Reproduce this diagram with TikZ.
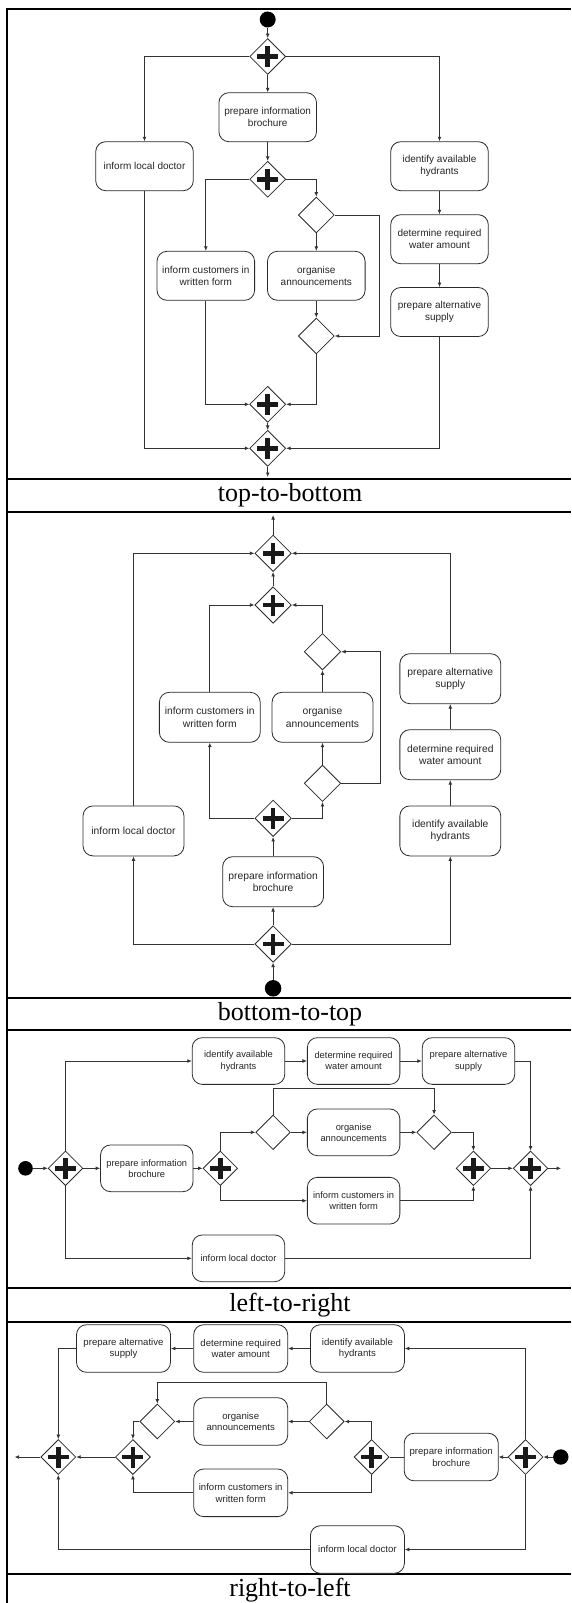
\documentclass[tikz,border=0pt]{standalone}
\usepackage{fontspec}
\setmainfont{Liberation Serif}
\newfontfamily\boxfont{Liberation Sans}
\usetikzlibrary{shapes.geometric, arrows.meta}
\definecolor{linecol}{HTML}{333333}
\definecolor{boxcol}{HTML}{2A2A2A}
\begin{document}
\begin{tikzpicture}[x=1pt, y=-1pt,
  box/.style={draw=boxcol, line width=0.8pt, rounded corners=10pt, align=center, inner sep=1pt, text=black!85, fill=white},
  gw/.style={diamond, draw=boxcol, line width=0.8pt, inner sep=0pt, fill=white, minimum width=36pt, minimum height=36pt},
  plusgw/.style={path picture={
     \fill[black!90] ([shift={(-10.5pt,-2.3pt)}]path picture bounding box.center) rectangle ([shift={(10.5pt,2.3pt)}]path picture bounding box.center);
     \fill[black!90] ([shift={(-2.3pt,-10.5pt)}]path picture bounding box.center) rectangle ([shift={(2.3pt,10.5pt)}]path picture bounding box.center);}},
  startdot/.style={circle, fill=black, inner sep=0pt, minimum size=16pt},
  arr/.style={draw=linecol, line width=0.75pt, -{Latex[length=4.5pt,width=3.8pt]}},
  con/.style={draw=linecol, line width=0.75pt},
  frameline/.style={line width=2pt, black},
  captext/.style={font=\fontsize{26}{30}\selectfont, inner sep=0pt}
]
\useasboundingbox (0,0) rectangle (571,1603);

% ---------------- frame ----------------
\draw[frameline] (6.3,9) -- (571,9);
\draw[frameline] (7.3,8) -- (7.3,1603);
\foreach \yy in {479.3, 511.7, 998.3, 1030, 1288.3, 1321.7, 1574.3}
  \draw[frameline] (6.3,\yy) -- (571,\yy);

\node[captext] (c1) at (290,495.5) {top-to-bottom};
\node[captext] (c2) at (290,1014) {bottom-to-top};
\node[captext] (c3) at (290,1305.5) {left-to-right};
\node[captext] (c4) at (290,1590.5) {right-to-left};

% ---------------- panel 1: top-to-bottom ----------------
\begin{scope}[box/.append style={minimum width=97.6pt, minimum height=49pt, font=\boxfont\fontsize{10}{11.8}\selectfont}]
\node[startdot] (s1) at (267.7,19.5) {};
\node[gw,plusgw] (f1) at (267.7,56.5) {};
\node[box] (bro1) at (267.7,117.2) {prepare information\\brochure};
\node[box] (doc1) at (144.5,166.2) {inform local doctor};
\node[box] (hyd1) at (439.5,166.2) {identify available\\hydrants};
\node[gw,plusgw] (f2) at (267.7,179.3) {};
\node[gw] (d1) at (316.3,215) {};
\node[box] (wat1) at (439.5,239.2) {determine required\\water amount};
\node[box] (cus1) at (205.8,275.8) {inform customers in\\written form};
\node[box] (ann1) at (316.3,275.8) {organise\\announcements};
\node[box] (sup1) at (439.5,312) {prepare alternative\\supply};
\node[gw] (m1) at (316.3,336) {};
\node[gw,plusgw] (j1) at (267.7,404.3) {};
\node[gw,plusgw] (j2) at (267.7,448.3) {};
\coordinate (e1) at (267.7,477);

\draw[arr] (s1) -- (f1);
\draw[arr] (f1) -- (bro1);
\draw[arr] (f1.west) -| (doc1);
\draw[arr] (f1.east) -| (hyd1);
\draw[arr] (hyd1) -- (wat1);
\draw[arr] (wat1) -- (sup1);
\draw[arr] (bro1) -- (f2);
\draw[arr] (f2.west) -| (cus1);
\draw[arr] (f2.east) -| (d1);
\draw[arr] (d1) -- (ann1);
\draw[arr] (d1.east) -- ++(44.4,0) |- (m1.east);
\draw[arr] (ann1) -- (m1);
\draw[arr] (cus1.south) |- (j1.west);
\draw[arr] (m1.south) |- (j1.east);
\draw[arr] (j1) -- (j2);
\draw[arr] (doc1.south) |- (j2.west);
\draw[arr] (sup1.south) |- (j2.east);
\draw[arr] (j2) -- (e1);
\end{scope}

% ---------------- panel 2: bottom-to-top ----------------
\begin{scope}[box/.append style={minimum width=100.9pt, minimum height=50pt, font=\boxfont\fontsize{10.3}{12.2}\selectfont},
  gw/.append style={minimum width=36.5pt, minimum height=36.5pt}]
\node[startdot, minimum size=16.5pt] (s2) at (273.1,988.3) {};
\node[gw,plusgw] (f1b) at (273.1,944) {};
\node[box] (bro2) at (273.1,881.7) {prepare information\\brochure};
\node[box] (doc2) at (133.5,830.9) {inform local doctor};
\node[box] (hyd2) at (450.3,830.9) {identify available\\hydrants};
\node[gw,plusgw] (f2b) at (273.1,818.3) {};
\node[gw] (d2) at (322.5,783.3) {};
\node[box] (wat2) at (450.3,754.7) {determine required\\water amount};
\node[box] (cus2) at (209.8,717.3) {inform customers in\\written form};
\node[box] (ann2) at (322.5,717.3) {organise\\announcements};
\node[box] (sup2) at (450.3,678.7) {prepare alternative\\supply};
\node[gw] (m2) at (322.5,651.7) {};
\node[gw,plusgw] (j2b) at (273.1,605) {};
\node[gw,plusgw] (jt) at (273.1,553.3) {};
\coordinate (e2) at (273.1,515);

\draw[arr] (s2) -- (f1b);
\draw[arr] (f1b) -- (bro2);
\draw[arr] (f1b.west) -| (doc2);
\draw[arr] (f1b.east) -| (hyd2);
\draw[arr] (hyd2) -- (wat2);
\draw[arr] (wat2) -- (sup2);
\draw[arr] (bro2) -- (f2b);
\draw[arr] (f2b.west) -| (cus2);
\draw[arr] (f2b.east) -| (d2);
\draw[arr] (d2) -- (ann2);
\draw[arr] (d2.east) -- ++(39.3,0) |- (m2.east);
\draw[arr] (ann2) -- (m2);
\draw[arr] (cus2.north) |- (j2b.west);
\draw[arr] (m2.north) |- (j2b.east);
\draw[arr] (j2b) -- (jt);
\draw[arr] (doc2.north) |- (jt.west);
\draw[arr] (sup2.north) |- (jt.east);
\draw[arr] (jt) -- (e2);
\end{scope}

% ---------------- panel 3: left-to-right ----------------
\begin{scope}[box/.append style={minimum width=92.5pt, minimum height=46.7pt, font=\boxfont\fontsize{9.3}{11.2}\selectfont},
  gw/.append style={minimum width=34.6pt, minimum height=34.6pt}]
\node[startdot, minimum size=14.6pt] (s3) at (25.5,1168.3) {};
\node[gw,plusgw] (f1c) at (65.5,1168.3) {};
\node[box] (hyd3) at (238.5,1061) {identify available\\hydrants};
\node[box] (wat3) at (353.6,1061) {determine required\\water amount};
\node[box] (sup3) at (468.5,1061) {prepare alternative\\supply};
\node[box] (bro3) at (146.8,1168.3) {prepare information\\brochure};
\node[gw,plusgw] (f2c) at (220.3,1168.3) {};
\node[gw] (d3a) at (273.1,1132.3) {};
\node[box] (ann3) at (353.6,1132.3) {organise\\announcements};
\node[gw] (d3b) at (434.1,1132.3) {};
\node[gw,plusgw] (j1c) at (473.4,1168.3) {};
\node[gw,plusgw] (j2c) at (530.6,1168.3) {};
\node[box] (cus3) at (353.6,1200.7) {inform customers in\\written form};
\node[box] (doc3) at (238.5,1258.3) {inform local doctor};
\coordinate (e3) at (561,1168.3);

\draw[arr] (s3) -- (f1c);
\draw[arr] (f1c) -- (bro3);
\draw[arr] (f1c.north) |- (hyd3);
\draw[arr] (hyd3) -- (wat3);
\draw[arr] (wat3) -- (sup3);
\draw[arr] (sup3.east) -| (j2c);
\draw[arr] (bro3) -- (f2c);
\draw[arr] (f2c.north) |- (d3a);
\draw[arr] (d3a) -- (ann3);
\draw[arr] (ann3) -- (d3b);
\draw[arr] (d3a.north) -- ++(0,-26.7) -| (d3b.north);
\draw[arr] (d3b.east) -| (j1c);
\draw[arr] (f2c.south) |- (cus3);
\draw[arr] (cus3.east) -| (j1c);
\draw[arr] (j1c) -- (j2c);
\draw[arr] (f1c.south) |- (doc3);
\draw[arr] (doc3.east) -| (j2c);
\draw[arr] (j2c) -- (e3);
\end{scope}

% ---------------- panel 4: right-to-left ----------------
\begin{scope}[box/.append style={minimum width=94pt, minimum height=47.6pt, font=\boxfont\fontsize{9.6}{11.5}\selectfont},
  gw/.append style={minimum width=35pt, minimum height=35pt}]
\node[startdot, minimum size=15.4pt] (s4) at (560.8,1457) {};
\node[gw,plusgw] (f1d) at (525.5,1457) {};
\node[box] (bro4) at (451.2,1457) {prepare information\\brochure};
\node[gw,plusgw] (f2d) at (371.6,1457) {};
\node[box] (hyd4) at (357.4,1348.5) {identify available\\hydrants};
\node[box] (wat4) at (240.7,1348.5) {determine required\\water amount};
\node[box] (sup4) at (123.5,1348.5) {prepare alternative\\supply};
\node[gw] (d4a) at (326.7,1421.5) {};
\node[box] (ann4) at (240.7,1421.5) {organise\\announcements};
\node[gw] (d4b) at (157.3,1421.5) {};
\node[gw,plusgw] (j2d) at (132.9,1457) {};
\node[gw,plusgw] (jfd) at (58.3,1457) {};
\node[box] (cus4) at (240.7,1492.8) {inform customers in\\written form};
\node[box] (doc4) at (357.4,1549.5) {inform local doctor};
\coordinate (e4) at (14.6,1457);

\draw[arr] (s4) -- (f1d);
\draw[arr] (f1d) -- (bro4);
\draw[con] (bro4) -- (f2d);
\draw[arr] (f1d.north) |- (hyd4);
\draw[arr] (hyd4) -- (wat4);
\draw[arr] (wat4) -- (sup4);
\draw[arr] (sup4.west) -| (jfd);
\draw[arr] (f2d.north) |- (d4a);
\draw[arr] (d4a) -- (ann4);
\draw[arr] (ann4) -- (d4b);
\draw[arr] (d4a.north) -- ++(0,-20.8) -| (d4b.north);
\draw[arr] (d4b.west) -| (j2d);
\draw[arr] (f2d.south) |- (cus4);
\draw[arr] (cus4.west) -| (j2d);
\draw[arr] (j2d) -- (jfd);
\draw[arr] (f1d.south) |- (doc4);
\draw[arr] (doc4.west) -| (jfd);
\draw[arr] (jfd) -- (e4);
\end{scope}
\end{tikzpicture}
\end{document}
